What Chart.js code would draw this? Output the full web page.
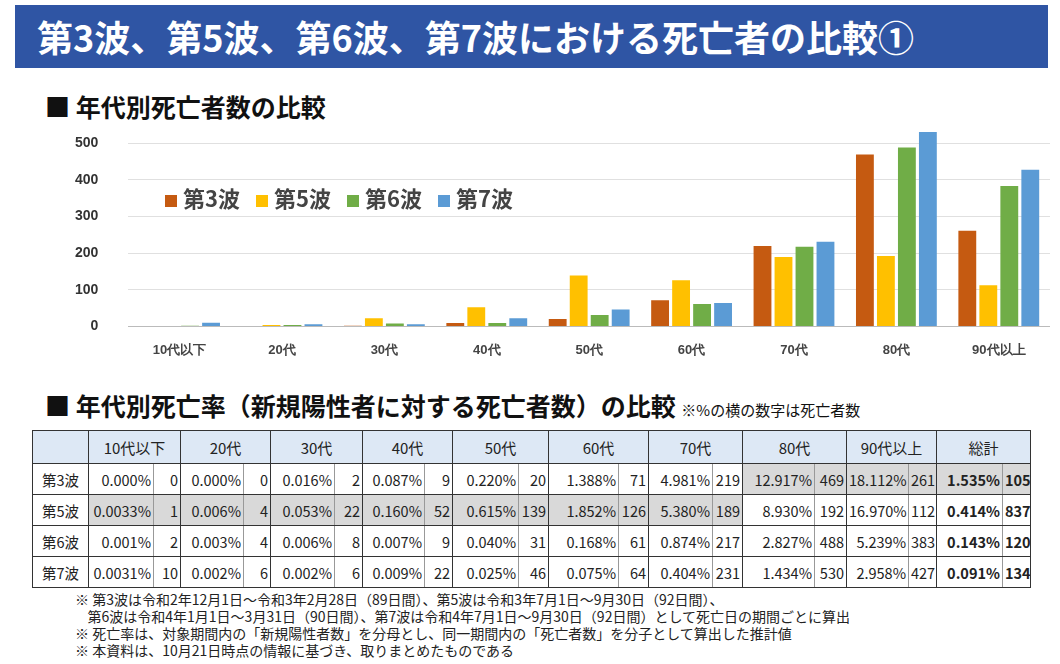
<!DOCTYPE html>
<html><head><meta charset="utf-8">
<script src="https://cdn.jsdelivr.net/npm/chart.js@4"></script>
<style>
body{margin:0;width:1060px;height:664px;background:#fff;font-family:"Noto Sans CJK JP",sans-serif;position:relative;overflow:hidden}
#title{position:absolute;left:15px;top:5px;width:1033px;height:63px;background:#2f55a4;color:#fff;font-weight:bold;font-size:36px;line-height:63px;padding-left:22px;box-sizing:border-box}
.h{position:absolute;left:45px;font-weight:bold;font-size:25px;color:#111}
.h small{font-size:15px;font-weight:normal}
#chartBox{position:absolute;left:45px;top:90px;width:1005px;height:276px}
#legend{position:absolute;left:165px;top:181px;font-weight:bold;font-size:22px;color:#444;display:flex;gap:16px}
#legend span i{display:inline-block;width:12px;height:12px;margin-right:6px}
table{position:absolute;left:32px;top:430px;border-collapse:collapse;table-layout:fixed;width:998px;font-size:14.5px;color:#222}
td{border:1px solid #333;height:30px;padding:0 2px;text-align:right;white-space:nowrap;overflow:hidden}
td.r{border-right:1px solid #999}
th{border:1px solid #333;background:#dde8f5;font-weight:normal;height:30px;font-size:15px}
td.lab{text-align:center}
.g{background:#d9d9d9}
.b{font-weight:bold}
#notes{position:absolute;left:75px;top:591px;font-size:14px;line-height:17px;color:#222}
</style></head><body>
<div id="title">第3波、第5波、第6波、第7波における死亡者の比較①</div>
<div class="h" style="top:88px">■ 年代別死亡者数の比較</div>
<div id="chartBox"><canvas id="c"></canvas></div>
<div id="legend"></div>
<div class="h" style="top:387px">■ 年代別死亡率（新規陽性者に対する死亡者数）の比較 <small>※%の横の数字は死亡者数</small></div>
<table id="t"></table>
<div id="notes">※ 第3波は令和2年12月1日～令和3年2月28日（89日間）、第5波は令和3年7月1日～9月30日（92日間）、<br>
&nbsp;&nbsp;&nbsp;&nbsp;第6波は令和4年1月1日～3月31日（90日間）、第7波は令和4年7月1日～9月30日（92日間）として死亡日の期間ごとに算出<br>
※ 死亡率は、対象期間内の「新規陽性者数」を分母とし、同一期間内の「死亡者数」を分子として算出した推計値<br>
※ 本資料は、10月21日時点の情報に基づき、取りまとめたものである</div>
<script>
const ages = ['10代以下', '20代', '30代', '40代', '50代', '60代', '70代', '80代', '90代以上'];
const waves = ['第3波', '第5波', '第6波', '第7波'];
const colors = ['#c55a11', '#ffc000', '#70ad47', '#5b9bd5'];
const deaths3 = [0, 0, 2, 9, 20, 71, 219, 469, 261];
const deaths5 = [1, 4, 22, 52, 139, 126, 189, 192, 112];
const deaths6 = [2, 4, 8, 9, 31, 61, 217, 488, 383];
const deaths7 = [10, 6, 6, 22, 46, 64, 231, 530, 427];
const rates3 = ['0.000%', '0.000%', '0.016%', '0.087%', '0.220%', '1.388%', '4.981%', '12.917%', '18.112%'];
const rates5 = ['0.0033%', '0.006%', '0.053%', '0.160%', '0.615%', '1.852%', '5.380%', '8.930%', '16.970%'];
const rates6 = ['0.001%', '0.003%', '0.006%', '0.007%', '0.040%', '0.168%', '0.874%', '2.827%', '5.239%'];
const rates7 = ['0.0031%', '0.002%', '0.002%', '0.009%', '0.025%', '0.075%', '0.404%', '1.434%', '2.958%'];
const totalRates = ['1.535%', '0.414%', '0.143%', '0.091%'];
const totalDeaths = [1051, 837, 1203, 1342];
const yTicks = [0, 100, 200, 300, 400, 500];

const deaths = [deaths3, deaths5, deaths6, deaths7];
const rates = [rates3, rates5, rates6, rates7];

// legend
document.getElementById('legend').innerHTML = waves.map((w, i) =>
    `<span><i style="background:${colors[i]}"></i>${w}</span>`).join('');

// table
const colW = [[65, 27], [63, 27], [64, 28], [62, 28], [66, 30], [70, 30], [64, 30], [72, 32], [62, 28], [66, 28]];
let html = '<colgroup><col style="width:56px">' + colW.map(c =>
    `<col style="width:${c[0]}px"><col style="width:${c[1]}px">`).join('') + '</colgroup>';
html += '<tr><th></th>' + ages.concat(['総計']).map(a => `<th colspan="2">${a}</th>`).join('') + '</tr>';
waves.forEach((w, r) => {
    html += `<tr><td class="lab">${w}</td>`;
    ages.forEach((a, i) => {
        const g = (r === 0 && i >= 7) || (r === 1 && i <= 6) ? ' g' : '';
        html += `<td class="r${g}">${rates[r][i]}</td><td class="${g}">${deaths[r][i]}</td>`;
    });
    const g = r === 0 ? ' g' : '';
    html += `<td class="r b${g}">${totalRates[r]}</td><td class="b${g}">${totalDeaths[r]}</td></tr>`;
});
document.getElementById('t').innerHTML = html;

// chart
new Chart(document.getElementById('c'), {
    type: 'bar',
    data: {
        labels: ages,
        datasets: waves.map((w, i) => ({
            label: w,
            data: deaths[i],
            backgroundColor: colors[i],
            categoryPercentage: 0.82,
            barPercentage: 0.85
        }))
    },
    options: {
        responsive: true,
        maintainAspectRatio: false,
        animation: false,
        plugins: { legend: { display: false }, tooltip: { enabled: false } },
        scales: {
            y: {
                min: 0,
                max: 540,
                afterBuildTicks: axis => { axis.ticks = yTicks.map(v => ({ value: v })); },
                grid: { color: '#e0e0e0', drawTicks: false },
                border: { display: false },
                ticks: { color: '#333', font: { size: 14, weight: 'bold' }, padding: 30 }
            },
            x: {
                grid: { display: false },
                border: { color: '#bbb' },
                ticks: { color: '#444', font: { size: 13, weight: 'bold' }, padding: 8 }
            }
        }
    }
});
</script>
</body></html>
